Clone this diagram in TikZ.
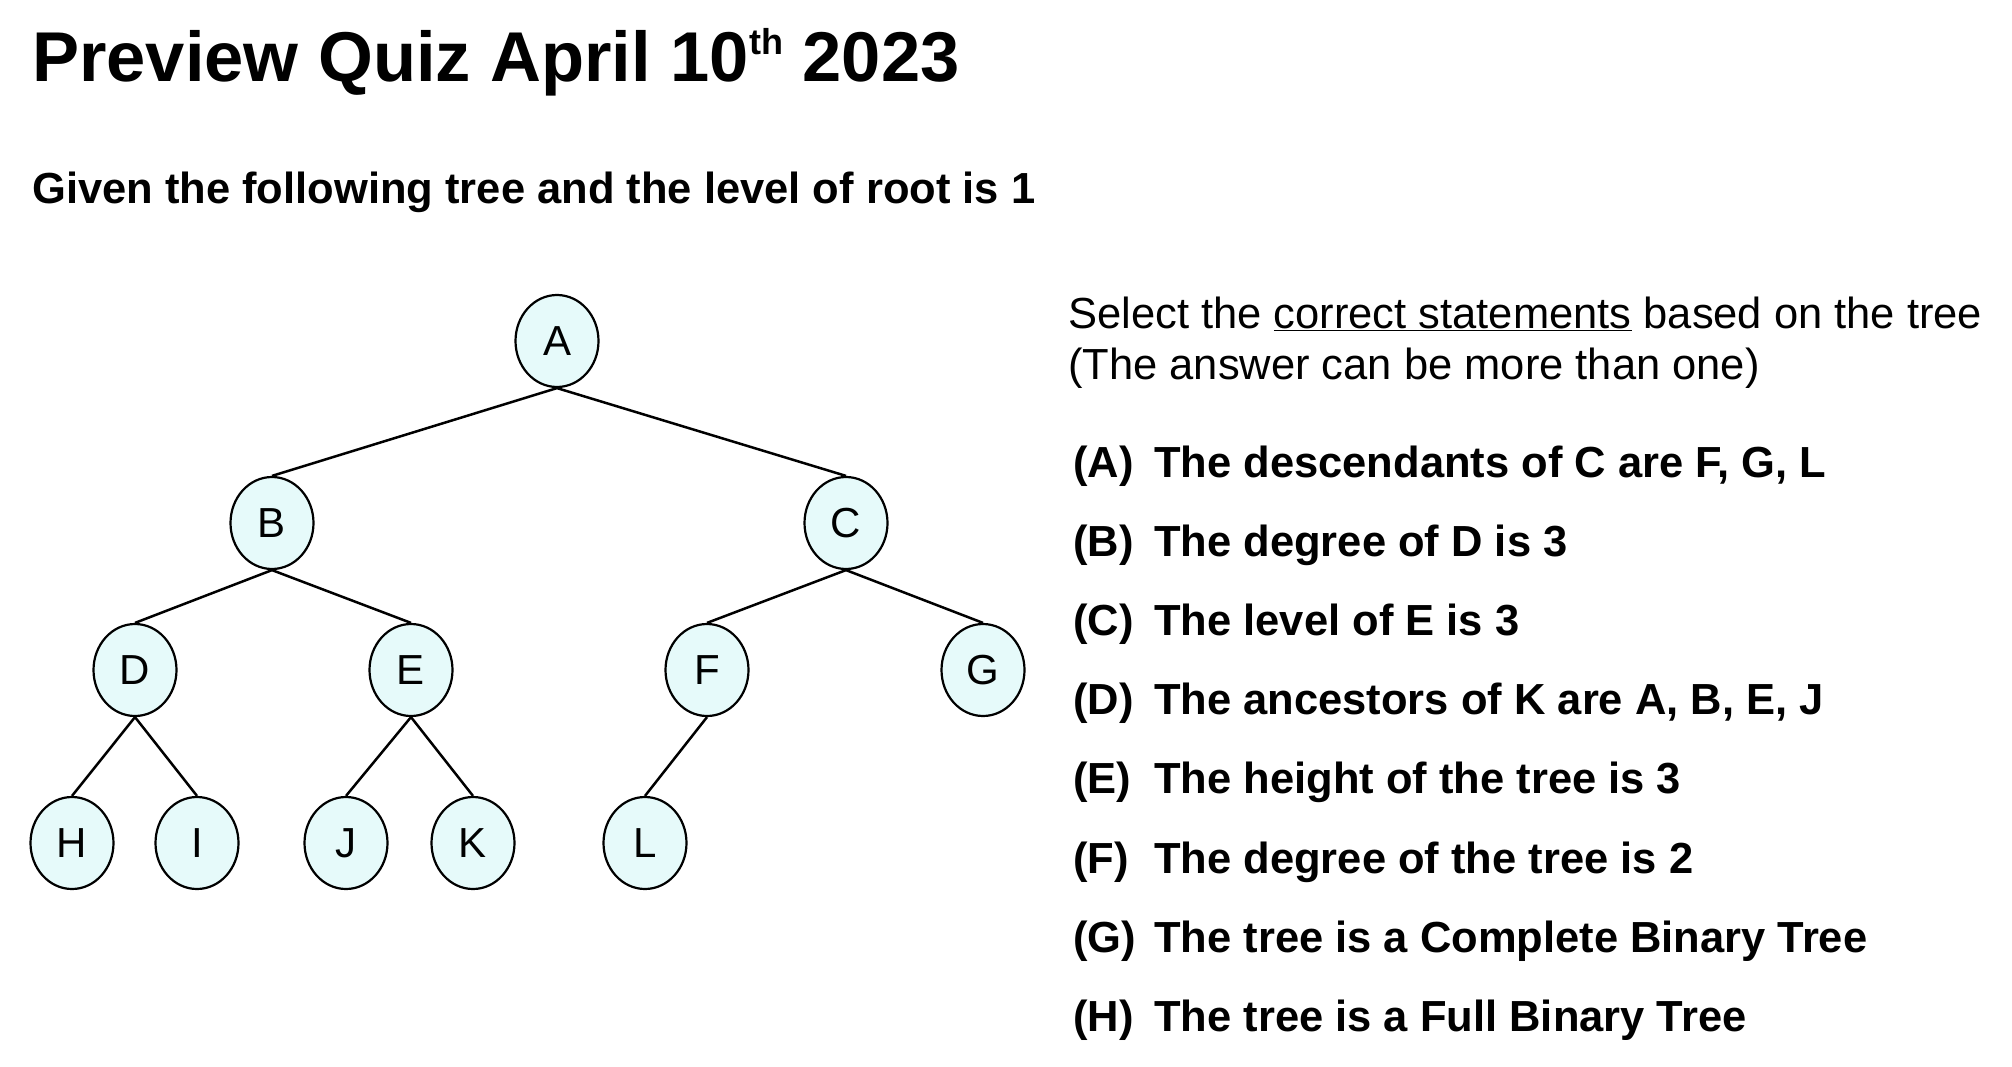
\documentclass[tikz,border=0pt]{standalone}
\usepackage{fontspec}
\setmainfont{Liberation Sans}
\usetikzlibrary{shapes.geometric}
\definecolor{nodefill}{RGB}{230,250,250}

\begin{document}
\begin{tikzpicture}[x=1pt, y=-1pt,
    vertex/.style={ellipse, draw, line width=2.2pt, fill=nodefill, minimum width=83pt, minimum height=92pt, inner sep=0pt, font=\fontsize{42}{48}\selectfont},
    edge/.style={line width=2.5pt},
    line/.style={anchor=base west, inner sep=0pt, font=\fontsize{43.5}{52}\selectfont}]
    \useasboundingbox [fill=white] (0, 0) rectangle (2012, 1067);

    \node [anchor=base west, inner sep=0pt, font=\fontsize{70.5}{84}\selectfont\bfseries] (title) at (32, 82) {Preview Quiz April 10\raisebox{27pt}{\fontsize{36}{36}\selectfont\bfseries th} 2023};
    \node [line, font=\fontsize{43.5}{52}\selectfont\bfseries] (given) at (32, 204) {Given the following tree and the level of root is 1};

    % tree
    \foreach \name/\x/\y in {A/557/341, B/272/523, C/846/523, D/135/670, E/411/670, F/707/670, G/983/670, H/72/843, I/197/843, J/346/843, K/473/843, L/645/843} {
        \node [vertex] (\name) at (\x, \y) {\name};
    }

    \foreach \p/\c in {A/B, A/C, B/D, B/E, C/F, C/G, D/H, D/I, E/J, E/K, F/L} {
        \draw [edge] (\p.south) -- (\c.north);
    }

    % question
    \node [line] (select) at (1068, 328) {Select the \underline{correct statements} based on the tree};
    \node [line] (answer) at (1068, 379) {(The answer can be more than one)};

    \foreach \i/\lbl/\txt in {0/A/{The descendants of C are F, G, L},
                              1/B/{The degree of D is 3},
                              2/C/{The level of E is 3},
                              3/D/{The ancestors of K are A, B, E, J},
                              4/E/{The height of the tree is 3},
                              5/F/{The degree of the tree is 2},
                              6/G/{The tree is a Complete Binary Tree},
                              7/H/{The tree is a Full Binary Tree}} {
        \node [line, font=\fontsize{43.5}{52}\selectfont\bfseries] (lbl\lbl) at (1073, 477 + 79.2*\i) {(\lbl)};
        \node [line, font=\fontsize{43.5}{52}\selectfont\bfseries] (stm\lbl) at (1154, 477 + 79.2*\i) {\txt};
    }
\end{tikzpicture}
\end{document}
